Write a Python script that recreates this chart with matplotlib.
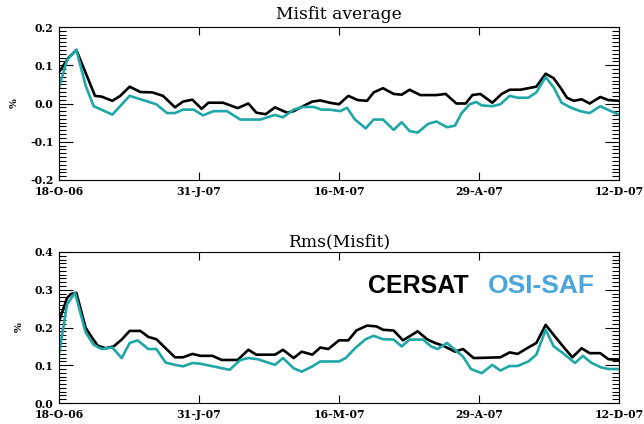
import matplotlib
matplotlib.use("Agg")
import matplotlib.pyplot as plt
from matplotlib.ticker import MultipleLocator, FixedLocator

# Days since 18 Oct 2006
tick_days = [0, 105, 210, 315, 420]
tick_labels = ["18-O-06", "31-J-07", "16-M-07", "29-A-07", "12-D-07"]

avg_cersat_days = [0, 7, 13, 27, 32, 40, 46, 53, 61, 70, 78, 87, 93, 100, 107, 112, 123, 134, 142, 148,
                   155, 162, 171, 176, 183, 190, 196, 203, 210, 217, 224, 231, 236, 243, 251, 257, 263,
                   271, 283, 290, 298, 305, 310, 316, 325, 332, 338, 346, 352, 358, 365, 371, 376, 381,
                   386, 392, 398, 406, 412, 420]
avg_cersat = [0.082, 0.119, 0.14, 0.02, 0.018, 0.007, 0.02, 0.044, 0.03, 0.029, 0.02, -0.01, 0.005, 0.01,
              -0.014, 0.002, 0.002, -0.012, 0.0, -0.024, -0.028, -0.01, -0.024, -0.02, -0.007, 0.005,
              0.008, 0.002, -0.002, 0.02, 0.009, 0.007, 0.029, 0.04, 0.025, 0.023, 0.036, 0.022, 0.022,
              0.025, 0.0, 0.0, 0.022, 0.025, 0.002, 0.025, 0.036, 0.036, 0.04, 0.044, 0.078, 0.066,
              0.042, 0.015, 0.007, 0.011, 0.0, 0.017, 0.009, 0.007]

avg_osisaf_days = [0, 6, 13, 20, 26, 40, 53, 73, 81, 87, 93, 101, 108, 116, 126, 136, 151, 162, 168, 176,
                   183, 191, 197, 203, 211, 216, 222, 230, 236, 243, 251, 257, 263, 269, 277, 283, 291,
                   297, 302, 308, 313, 317, 325, 331, 338, 344, 352, 358, 365, 371, 377, 384, 391, 398,
                   406, 412, 420]
avg_osisaf = [0.042, 0.113, 0.14, 0.047, -0.007, -0.029, 0.02, -0.002, -0.025, -0.025, -0.016, -0.016,
              -0.031, -0.02, -0.02, -0.042, -0.042, -0.03, -0.036, -0.016, -0.009, -0.009, -0.016,
              -0.016, -0.02, -0.011, -0.042, -0.065, -0.042, -0.042, -0.069, -0.049, -0.072, -0.076,
              -0.053, -0.047, -0.062, -0.058, -0.025, -0.002, 0.004, -0.005, -0.007, -0.002, 0.02,
              0.015, 0.015, 0.029, 0.069, 0.042, 0.002, -0.011, -0.02, -0.025, -0.007, -0.017, -0.029]

rms_cersat_days = [0, 6, 9, 13, 20, 25, 29, 35, 41, 47, 53, 61, 67, 73, 80, 87, 93, 100, 106, 115, 122,
                   134, 142, 148, 162, 168, 176, 182, 190, 196, 202, 210, 217, 223, 231, 238, 243, 251,
                   258, 269, 276, 282, 288, 297, 303, 311, 331, 338, 344, 351, 358, 365, 372, 378, 385,
                   392, 398, 406, 412, 420]
rms_cersat = [0.216, 0.278, 0.289, 0.292, 0.199, 0.172, 0.152, 0.145, 0.15, 0.168, 0.191, 0.191, 0.175,
              0.169, 0.145, 0.121, 0.121, 0.13, 0.125, 0.125, 0.114, 0.114, 0.141, 0.128, 0.128, 0.141,
              0.119, 0.136, 0.128, 0.147, 0.143, 0.166, 0.166, 0.192, 0.205, 0.203, 0.194, 0.192, 0.166,
              0.19, 0.169, 0.159, 0.152, 0.136, 0.143, 0.119, 0.121, 0.134, 0.13, 0.145, 0.159, 0.207,
              0.176, 0.15, 0.121, 0.145, 0.132, 0.132, 0.116, 0.114]

rms_osisaf_days = [0, 6, 12, 20, 26, 32, 40, 47, 53, 59, 67, 73, 80, 87, 93, 100, 106, 128, 136, 142,
                   149, 162, 168, 176, 182, 190, 196, 210, 215, 222, 230, 236, 243, 251, 257, 263, 273,
                   279, 284, 291, 297, 303, 309, 317, 325, 331, 338, 344, 352, 358, 365, 371, 378, 387,
                   393, 399, 406, 412, 420]
rms_osisaf = [0.128, 0.261, 0.292, 0.187, 0.154, 0.143, 0.147, 0.119, 0.159, 0.166, 0.143, 0.143, 0.107,
              0.101, 0.097, 0.106, 0.104, 0.088, 0.114, 0.119, 0.116, 0.101, 0.119, 0.092, 0.083, 0.097,
              0.11, 0.11, 0.119, 0.145, 0.169, 0.178, 0.169, 0.168, 0.15, 0.168, 0.168, 0.15, 0.143,
              0.159, 0.141, 0.123, 0.09, 0.079, 0.101, 0.086, 0.098, 0.098, 0.11, 0.128, 0.194, 0.15,
              0.132, 0.106, 0.125, 0.107, 0.095, 0.09, 0.09]

BLACK = "#000000"
TEAL = "#1FA7A8"
LEGEND_BLUE = "#4BA6DC"
tick_font = dict(family="DejaVu Serif", weight="bold", size=7.8)

fig = plt.figure(figsize=(6.44, 4.24), dpi=100)
ax1 = fig.add_axes([59 / 644, 1 - 180 / 424, 560 / 644, 153 / 424])
ax2 = fig.add_axes([59 / 644, 1 - 403 / 424, 560 / 644, 151 / 424])


def style(ax, ylim, yticks, ylabels):
    ax.set_xlim(0, 420)
    ax.set_ylim(*ylim)
    ax.xaxis.set_major_locator(FixedLocator(tick_days))
    ax.set_xticklabels(tick_labels, fontdict=tick_font)
    ax.set_yticks(yticks)
    ax.set_yticklabels(ylabels, fontdict=tick_font)
    ax.yaxis.set_minor_locator(MultipleLocator(0.01))
    ax.tick_params(axis="x", which="major", direction="in", length=6, width=0.8,
                   top=True, bottom=True, pad=4)
    ax.tick_params(axis="y", which="major", direction="in", length=10, width=0.8,
                   left=True, right=True, pad=4)
    ax.tick_params(axis="y", which="minor", direction="in", length=5, width=0.8,
                   left=True, right=True)
    for sp in ax.spines.values():
        sp.set_linewidth(0.8)
    ax.set_ylabel("%", fontsize=7.5, family="DejaVu Serif", fontweight="bold", labelpad=8)


ax1.plot(avg_cersat_days, avg_cersat, color=BLACK, lw=1.9, solid_joinstyle="round")
ax1.plot(avg_osisaf_days, avg_osisaf, color=TEAL, lw=1.9, solid_joinstyle="round")
style(ax1, (-0.2, 0.2), [-0.2, -0.1, 0.0, 0.1, 0.2], ["-0.2", "-0.1", "0.0", "0.1", "0.2"])
ax1.set_title("Misfit average", family="DejaVu Serif", fontsize=12.3, pad=6)

ax2.plot(rms_cersat_days, rms_cersat, color=BLACK, lw=1.9, solid_joinstyle="round")
ax2.plot(rms_osisaf_days, rms_osisaf, color=TEAL, lw=1.9, solid_joinstyle="round")
style(ax2, (0.0, 0.4), [0.0, 0.1, 0.2, 0.3, 0.4], ["0.0", "0.1", "0.2", "0.3", "0.4"])
ax2.set_title("Rms(Misfit)", family="DejaVu Serif", fontsize=12.3, pad=4)

fig.text(368 / 644, 1 - 286 / 424, "CERSAT", family="Liberation Sans", fontweight="bold",
         fontsize=18, color=BLACK, ha="left", va="center")
fig.text(488 / 644, 1 - 286 / 424, "OSI-SAF", family="Liberation Sans", fontweight="bold",
         fontsize=19, color=LEGEND_BLUE, ha="left", va="center")

fig.savefig("out.png", dpi=100)
